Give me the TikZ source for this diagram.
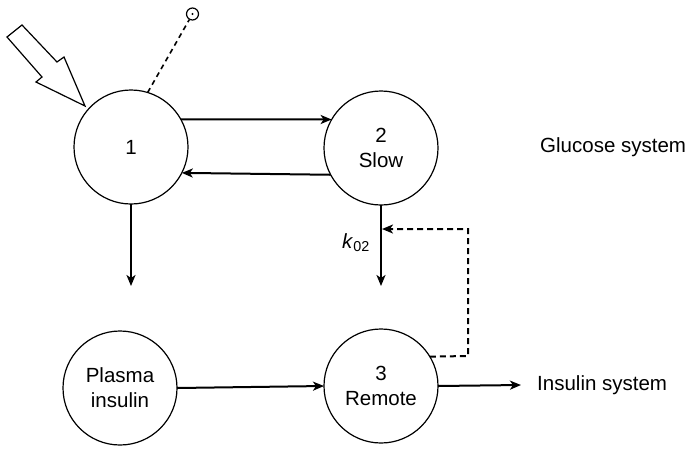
\documentclass[tikz,border=0pt]{standalone}
\usepackage{fontspec}
\setmainfont{Liberation Sans}
\usetikzlibrary{arrows.meta}
\begin{document}
\begin{tikzpicture}[x=1pt,y=-1pt,
  comp/.style={circle,draw,line width=1.2pt,minimum size=114pt,inner sep=0pt,outer sep=0pt,align=center,font=\fontsize{20.5}{25}\selectfont},
  lab/.style={font=\fontsize{20.5}{25}\selectfont,inner sep=0pt},
  flow/.style={line width=2pt,-{Stealth[length=11pt,width=9pt,inset=3pt]}},
  fb/.style={line width=2pt,dash pattern=on 6pt off 4pt,-{Stealth[length=11pt,width=9pt,inset=3pt]}}]
\useasboundingbox (0,0) rectangle (688,448);
\node[comp] (c1) at (131,147) {1};
\node[comp] (c2) at (381,148) {2\\Slow};
\node[comp] (pi) at (120,388) {Plasma\\insulin};
\node[comp] (c3) at (381,386) {3\\Remote};
\node[lab,anchor=west] (gs) at (540,147) {Glucose system};
\node[lab,anchor=west] (is) at (537,385) {Insulin system};
\node[lab,anchor=east] (k) at (370,243) {\textit{k}\textsubscript{02}};
% small circle
\node[circle,draw,line width=1.2pt,minimum size=12pt,inner sep=0pt] (sc) at (192.5,14) {};
\fill (sc.center) circle (1.2pt);
\draw[line width=1.6pt,dash pattern=on 5pt off 4pt] (c1.73) -- (sc);
% block arrow
\draw[line width=1.2pt,fill=white] (7,37) -- (22,25) -- (57,62) -- (64,57) -- (85,106) -- (36,82) -- (42,77) -- cycle;
% flows
\draw[flow] (c1.29.4) -- (c2.150.6);
\draw[flow] (c2.-152.9) -- (c1.-27.1);
\coordinate (d1) at (131,286);
\coordinate (d2) at (381,286);
\draw[flow] (c1.south) -- (d1);
\draw[flow] (c2.south) -- (d2);
\draw[flow] (pi.east) -- (c3.west);
\coordinate (out) at (521,385);
\draw[flow] (c3.east) -- (out);
\coordinate (fa) at (468,356);
\coordinate (fb) at (468,229);
\coordinate (fc) at (382,229);
\draw[fb] (c3.31.8) -- (fa) -- (fb) -- (fc);
\end{tikzpicture}
\end{document}
